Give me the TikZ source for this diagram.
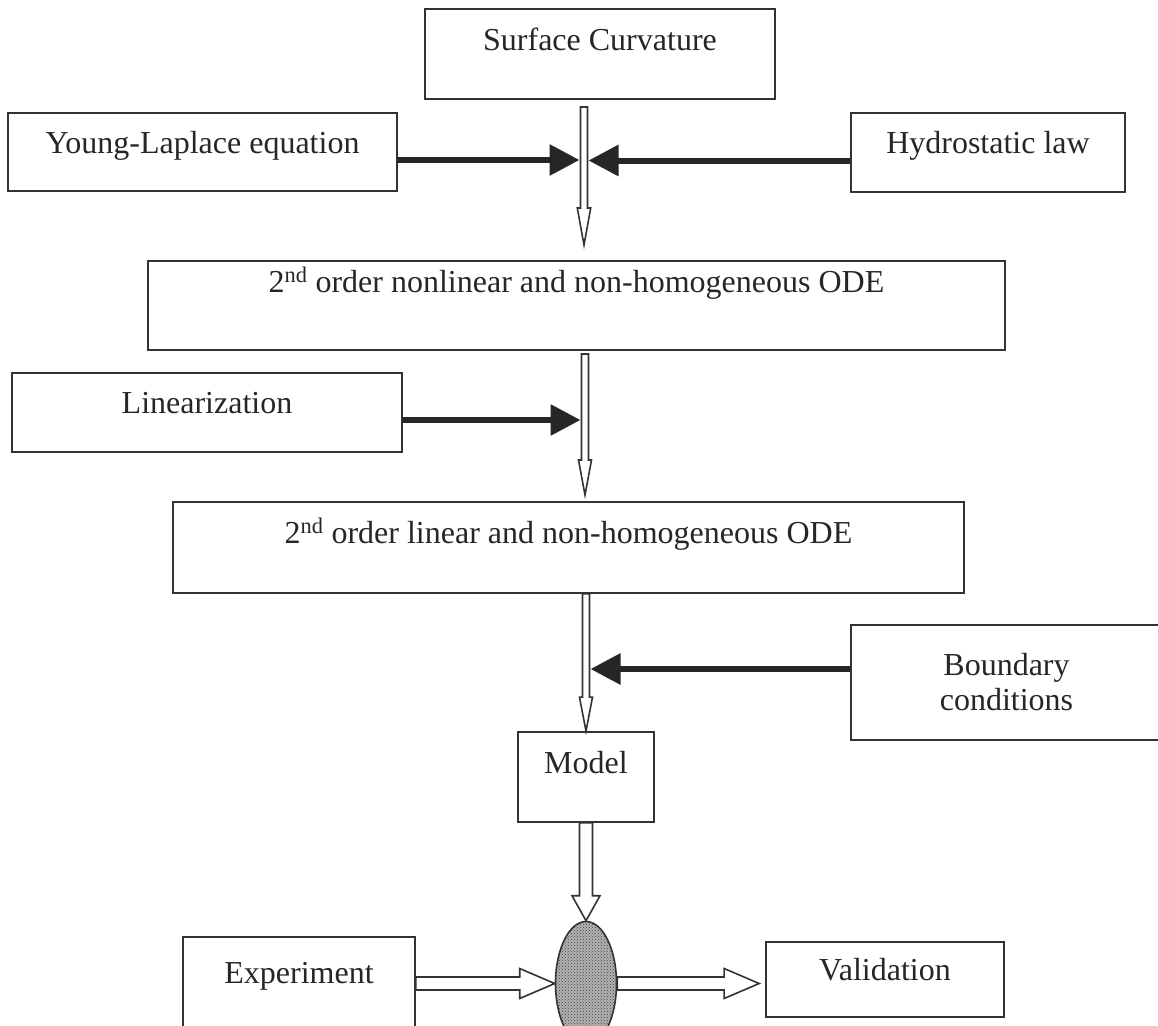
\documentclass[tikz,border=0pt]{standalone}
\usepackage{fontspec}
\setmainfont{Liberation Serif}
\usetikzlibrary{arrows.meta,calc,shapes.geometric,patterns}

\newcommand{\hollowarrow}[5]{%
  \draw[hollow] ($(#1)!#3!90:(#2)$) -- ($(#2)!#5!(#1)!#3!90:(#2)$)
    -- ($(#2)!#5!(#1)!#4!90:(#2)$) -- (#2)
    -- ($(#2)!#5!(#1)!#4!-90:(#2)$) -- ($(#2)!#5!(#1)!#3!-90:(#2)$)
    -- ($(#1)!#3!-90:(#2)$) -- cycle;}

\begin{document}
\begin{tikzpicture}[x=1pt,y=-1pt]
    \tikzstyle{box}=[draw=black!80,line width=1.7pt,rectangle,inner sep=0pt,anchor=base,text=black!85,font=\fontsize{32}{35}\selectfont]
    \tikzstyle{feed}=[line width=6pt,draw=black!85,-{Triangle[length=30pt,width=30pt]}]
    \tikzstyle{hollow}=[line width=1.6pt,draw=black!80,fill=white,line join=miter]

    \useasboundingbox (0,0) rectangle (1158,1025);

    \node[box,minimum width=350pt,text height=42pt,text depth=48pt] at (600,51) (surf) {Surface Curvature};
    \node[box,minimum width=389pt,text height=40pt,text depth=38pt] at (202.5,153) (young) {Young-Laplace equation};
    \node[box,minimum width=274pt,text height=40pt,text depth=39pt] at (988,153) (hydro) {Hydrostatic law};
    \node[box,minimum width=857pt,text height=31pt,text depth=58pt] at (576.5,292) (nonlin) {2\textsuperscript{nd} order nonlinear and non-homogeneous ODE};
    \node[box,minimum width=390pt,text height=40pt,text depth=39pt] at (207,413) (linz) {Linearization};
    \node[box,minimum width=791pt,text height=41pt,text depth=50pt] at (568.5,543) (lin) {2\textsuperscript{nd} order linear and non-homogeneous ODE};
    \node[box,anchor=center,align=center,minimum width=311pt,minimum height=115pt] at (1006.5,682.5) (bound) {Boundary\\conditions};
    \node[box,minimum width=136pt,text height=41pt,text depth=49pt] at (586,773) (model) {Model};
    \node[box,minimum width=232pt,text height=46.5pt,text depth=46.5pt] at (299,983.5) (exper) {Experiment};
    \node[box,minimum width=238pt,text height=38pt,text depth=37pt] at (885,980) (valid) {Validation};
    \node[ellipse,draw=black!80,line width=1.6pt,minimum width=61pt,minimum height=124pt,inner sep=0pt,preaction={fill=gray!60},pattern=crosshatch dots,pattern color=black!75] at (586,983.5) (ell) {};

    \coordinate (a1s) at (584,107);
    \coordinate (a1e) at (584,245);
    \coordinate (a2s) at (585,354);
    \coordinate (a2e) at (585,495);
    \coordinate (a3s) at (lin.south -| model.north);
    \coordinate (a6e) at ([xshift=-6pt]ell.east -| valid.west);

    \hollowarrow{a1s}{a1e}{3.5pt}{6.7pt}{37pt}
    \hollowarrow{a2s}{a2e}{3.5pt}{6.5pt}{35pt}
    \hollowarrow{a3s}{model.north}{3.5pt}{6.5pt}{34pt}
    \hollowarrow{model.south}{ell.north}{6.5pt}{14pt}{25pt}
    \hollowarrow{exper.east}{ell.west}{6.5pt}{15pt}{35pt}
    \hollowarrow{ell.east}{a6e}{6.5pt}{15pt}{35pt}

    \draw[feed] ([yshift=-8pt]young.east) -- ([xshift=-4.5pt,yshift=-8pt]a1s |- young.east);
    \draw[feed] ([yshift=-8pt]hydro.west) -- ([xshift=4.5pt,yshift=-8pt]a1s |- hydro.west);
    \draw[feed] ([yshift=-7.5pt]linz.east) -- ([xshift=-4.5pt,yshift=-7.5pt]a2s |- linz.east);
    \draw[feed] ([yshift=13.5pt]bound.west) -- ([xshift=4.5pt,yshift=13.5pt]a3s |- bound.west);
\end{tikzpicture}
\end{document}
